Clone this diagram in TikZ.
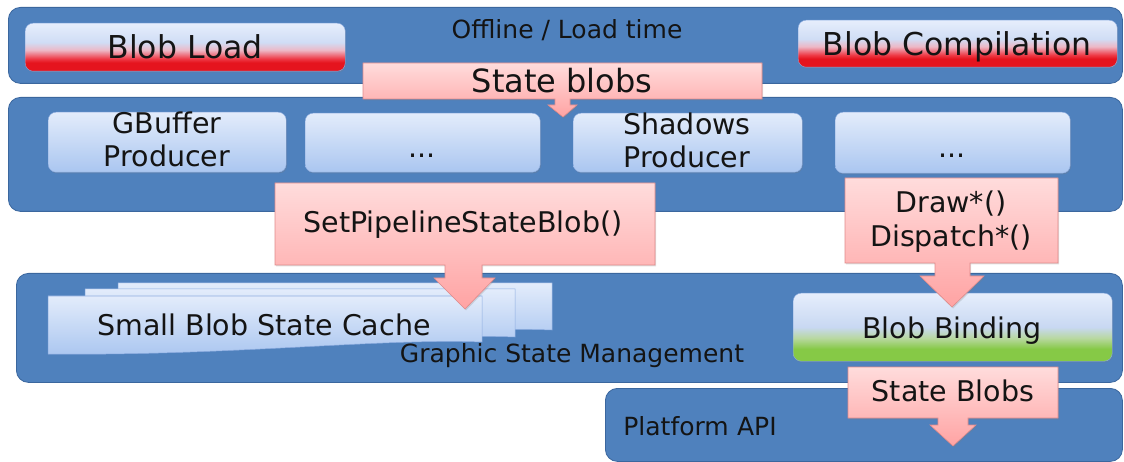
\documentclass[tikz,border=0pt]{standalone}
\usepackage{fontspec}
\setmainfont{DejaVu Sans}
\usetikzlibrary{shadows}
\definecolor{bandblue}{HTML}{4F81BD}
\definecolor{bandline}{HTML}{3B679E}
\definecolor{boxtop}{HTML}{E3ECFB}
\definecolor{boxbot}{HTML}{AAC6F0}
\definecolor{boxline}{HTML}{8EADE0}
\definecolor{calltop}{HTML}{FFDCDC}
\definecolor{callbot}{HTML}{FFA3A3}
\definecolor{callline}{HTML}{E08A8A}
\definecolor{txt}{HTML}{141414}
\definecolor{lred}{HTML}{E5141E}
\definecolor{lredb}{HTML}{EE3A46}
\definecolor{lpink}{HTML}{EDB8C6}
\definecolor{lblue}{HTML}{D0DDF5}
\definecolor{ltop}{HTML}{E6EEFC}
\definecolor{ggreen}{HTML}{86C946}
\definecolor{gmid}{HTML}{B8D8A0}
\definecolor{glight}{HTML}{C8D8F2}
\pgfdeclareverticalshading{loadsh}{100bp}{color(0bp)=(lred); color(25bp)=(lred); color(34bp)=(lred); color(38bp)=(lredb); color(47bp)=(lpink); color(55bp)=(lblue); color(75bp)=(ltop); color(100bp)=(ltop)}
\pgfdeclareverticalshading{bindsh}{100bp}{color(0bp)=(ggreen); color(25bp)=(ggreen); color(34bp)=(ggreen); color(42bp)=(gmid); color(50bp)=(glight); color(75bp)=(ltop); color(100bp)=(ltop)}
\tikzset{
  band/.style={draw=bandline, line width=0.8pt, fill=bandblue, rounded corners=12pt, inner sep=0pt, anchor=north west},
  lbox/.style={draw=boxline, line width=0.4pt, top color=boxtop, bottom color=boxbot, rounded corners=8pt, inner sep=0pt, anchor=north west, drop shadow={opacity=0.25, shadow xshift=0.8pt, shadow yshift=-1.2pt}},
  loadbox/.style={lbox, shading=loadsh},
  bindbox/.style={lbox, shading=bindsh},
  pagebox/.style={draw=boxline, line width=0.5pt, top color=boxtop, bottom color=boxbot},
  calloutshape/.style={draw=callline, line width=0.6pt, top color=calltop, bottom color=callbot, drop shadow={opacity=0.25, shadow xshift=1pt, shadow yshift=-1.5pt}},
  tA/.style={font=\fontsize{25}{30}\selectfont, text=txt, inner sep=0pt, anchor=base},
  tB/.style={font=\fontsize{28.5}{34}\selectfont, text=txt, inner sep=0pt, anchor=base},
  tC/.style={font=\fontsize{31.5}{38}\selectfont, text=txt, inner sep=0pt, anchor=base},
}
\begin{document}
\begin{tikzpicture}[x=1pt,y=-1pt]
\useasboundingbox (0,0) rectangle (1124,462);
% bands
\node[band, minimum width=1114pt, minimum height=76pt] (offline) at (8,7) {};
\node[band, minimum width=1114pt, minimum height=114pt] (producers) at (8,97) {};
\node[band, minimum width=1106pt, minimum height=109pt] (gsm) at (16,273) {};
\node[band, minimum width=517pt, minimum height=73pt] (platform) at (605,388) {};
% offline layer
\node[loadbox, minimum width=320pt, minimum height=48pt] (blobload) at (25,23) {};
\node[loadbox, minimum width=319pt, minimum height=47pt] (blobcomp) at (798,20) {};
\node[tA] (offlinetxt) at (567,38.5) {Offline / Load time};
\node[tC] (blobloadtxt) at (185,59) {Blob Load};
\node[tC] (blobcomptxt) at (957,56) {Blob Compilation};
% producers
\node[lbox, minimum width=238pt, minimum height=60pt] (gbuf) at (48,112) {};
\node[lbox, minimum width=235pt, minimum height=59pt] (dotsa) at (305,113) {};
\node[lbox, minimum width=229pt, minimum height=59pt] (shadows) at (573,113) {};
\node[lbox, minimum width=235pt, minimum height=61pt] (dotsb) at (835,112) {};
\node[tB] (gbufa) at (167,134) {GBuffer};
\node[tB] (gbufb) at (167,167) {Producer};
\node[tB] (dotsatxt) at (422,158) {...};
\node[tB] (shadowsa) at (687,135) {Shadows};
\node[tB] (shadowsb) at (687,168) {Producer};
\node[tB] (dotsbtxt) at (952,158) {...};
% graphic state management
\path[pagebox] (118,283) -- (552,283) -- (552,330) .. controls (450,326) and (300,344) .. (118,342) -- cycle;
\path[pagebox] (85,289) -- (515,289) -- (515,337) .. controls (415,333) and (265,351) .. (85,349) -- cycle;
\path[pagebox] (48,296) -- (482,296) -- (482,342) .. controls (380,338) and (230,356) .. (48,354) -- cycle;
\node[tB] (cachetxt) at (264,335) {Small Blob State Cache};
\node[bindbox, minimum width=319pt, minimum height=68pt] (binding) at (793,293) {};
\node[tB] (bindingtxt) at (952,338) {Blob Binding};
\node[tA] (gsmtxt) at (572,362) {Graphic State Management};
% platform
\node[tA] (platformtxt) at (700,435) {Platform\,\,API};
% callouts
\path[calloutshape] (363,63) -- (762,63) -- (762,99) -- (570,99) -- (570,105) -- (577,105) -- (563,117) -- (548,105) -- (555,105) -- (555,99) -- (363,99) -- cycle;
\node[tC, font=\fontsize{32}{38}\selectfont] (stateblobstxt) at (562,93) {State blobs};
\path[calloutshape] (275,183) -- (655,183) -- (655,265) -- (482,265) -- (482,278) -- (495,278) -- (465,309) -- (434,278) -- (445,278) -- (445,265) -- (275,265) -- cycle;
\node[tB] (setpipetxt) at (463,233) {SetPipelineStateBlob()};
\path[calloutshape] (845,178) -- (1058,178) -- (1058,263) -- (970,263) -- (970,276) -- (984,276) -- (952,307) -- (920,276) -- (935,276) -- (935,263) -- (845,263) -- cycle;
\node[tB] (drawtxt) at (951,213) {Draw*()};
\node[tB] (dispatchtxt) at (951,247) {Dispatch*()};
\path[calloutshape] (848,367) -- (1058,367) -- (1058,418) -- (968,418) -- (968,425) -- (976,425) -- (953,446) -- (930,425) -- (938,425) -- (938,418) -- (848,418) -- cycle;
\node[tB] (stateblobsbtxt) at (953,401) {State Blobs};
\end{tikzpicture}
\end{document}
